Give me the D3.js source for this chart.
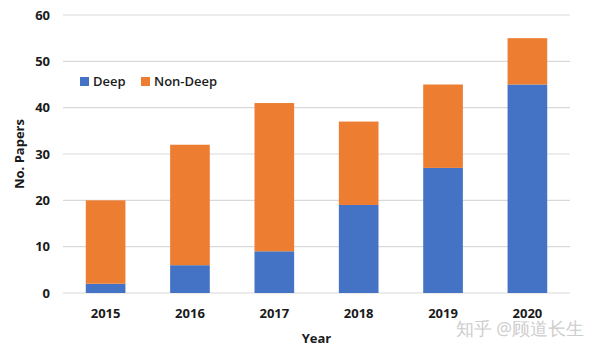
<!DOCTYPE html>
<html>
<head>
<meta charset="utf-8">
<script src="https://cdn.jsdelivr.net/npm/d3@7"></script>
<style>
  body { margin: 0; background: #fff; }
  text { font-family: "Open Sans", "Liberation Sans", sans-serif; }
</style>
</head>
<body>
<div id="chart"></div>
<script>
// data
const years = ["2015", "2016", "2017", "2018", "2019", "2020"];
const deep = [2, 6, 9, 19, 27, 45];
const nonDeep = [18, 26, 32, 18, 18, 10];
const yTicks = [0, 10, 20, 30, 40, 50, 60];
const seriesNames = ["Deep", "Non-Deep"];
const colors = ["#4472C4", "#ED7D31"];

const width = 600, height = 352;
const margin = { top: 15, right: 30, bottom: 59, left: 63 };

const svg = d3.select("#chart").append("svg")
  .attr("width", width)
  .attr("height", height);

const x = d3.scaleBand()
  .domain(years)
  .range([margin.left, width - margin.right])
  .paddingInner(0.53)
  .paddingOuter(0.27);

const y = d3.scaleLinear()
  .domain([0, 60])
  .range([height - margin.bottom, margin.top]);

// gridlines
svg.append("g")
  .selectAll("line")
  .data(yTicks)
  .join("line")
  .attr("x1", margin.left)
  .attr("x2", width - margin.right)
  .attr("y1", d => y(d))
  .attr("y2", d => y(d))
  .attr("stroke", "#d9d9d9")
  .attr("stroke-width", 1.2);

// stacked bars
const table = years.map((yr, i) => ({ year: yr, Deep: deep[i], "Non-Deep": nonDeep[i] }));
const stack = d3.stack().keys(seriesNames)(table);

svg.append("g")
  .selectAll("g")
  .data(stack)
  .join("g")
  .attr("fill", (d, i) => colors[i])
  .selectAll("rect")
  .data(d => d)
  .join("rect")
  .attr("x", d => x(d.data.year))
  .attr("width", x.bandwidth())
  .attr("y", d => y(d[1]))
  .attr("height", d => y(d[0]) - y(d[1]));

// y tick labels
svg.append("g")
  .selectAll("text")
  .data(yTicks)
  .join("text")
  .attr("x", 50)
  .attr("y", d => y(d))
  .attr("dy", "0.36em")
  .attr("text-anchor", "end")
  .attr("font-size", 13)
  .attr("font-weight", 700)
  .attr("fill", "#1a1a1a")
  .text(d => d);

// x tick labels
svg.append("g")
  .selectAll("text")
  .data(years)
  .join("text")
  .attr("x", d => x(d) + x.bandwidth() / 2)
  .attr("y", 318)
  .attr("text-anchor", "middle")
  .attr("font-size", 13)
  .attr("font-weight", 700)
  .attr("fill", "#1a1a1a")
  .text(d => d);

// axis titles
svg.append("text")
  .attr("x", (margin.left + width - margin.right) / 2)
  .attr("y", 343)
  .attr("text-anchor", "middle")
  .attr("font-size", 13)
  .attr("font-weight", 700)
  .attr("fill", "#1a1a1a")
  .text("Year");

svg.append("text")
  .attr("transform", `translate(24, ${y(30)}) rotate(-90)`)
  .attr("text-anchor", "middle")
  .attr("font-size", 13)
  .attr("font-weight", 700)
  .attr("fill", "#1a1a1a")
  .text("No. Papers");

// legend
const legend = svg.append("g");
const legendX = [80, 141];
seriesNames.forEach((name, i) => {
  legend.append("rect")
    .attr("x", legendX[i])
    .attr("y", 77)
    .attr("width", 9)
    .attr("height", 9)
    .attr("fill", colors[i]);
  legend.append("text")
    .attr("x", legendX[i] + 13)
    .attr("y", 86)
    .attr("font-size", 13)
    .attr("font-weight", 600)
    .attr("fill", "#1a1a1a")
    .text(name);
});

// watermark (overlaps the 2020 label, as in the source image)
svg.append("text")
  .attr("x", 584)
  .attr("y", 335)
  .attr("text-anchor", "end")
  .attr("font-family", "Noto Sans CJK SC")
  .attr("font-size", 17.5)
  .attr("fill", "#c8c8c8")
  .attr("opacity", 0.9)
  .text("知乎 @顾道长生");
</script>
</body>
</html>
